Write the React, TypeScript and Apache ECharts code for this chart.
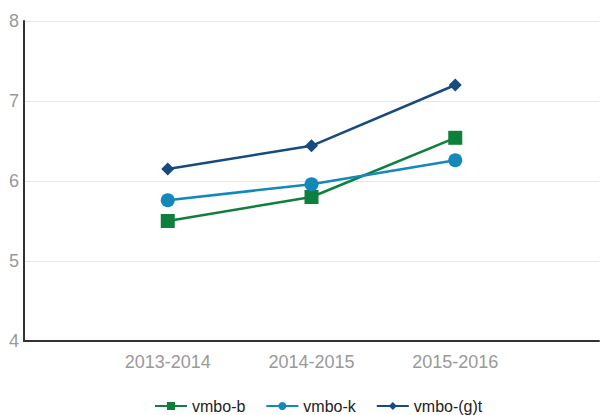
import React, { useEffect, useRef } from "react";
import * as echarts from "echarts";

const categories = ["", "2013-2014", "2014-2015", "2015-2016", ""];
const vmboB = ["-", 5.5, 5.8, 6.54, "-"];
const vmboK = ["-", 5.76, 5.96, 6.26, "-"];
const vmboGT = ["-", 6.15, 6.44, 7.2, "-"];
const yTicks = [4, 5, 6, 7, 8];

export default function App() {
  const ref = useRef<HTMLDivElement>(null);
  useEffect(() => {
    const chart = echarts.init(ref.current!, null, { renderer: "svg" });
    const font = "Liberation Sans, Arial, sans-serif";
    const mk = (name: string, data: any[], color: string, symbol: string, size: number) => ({
      name,
      type: "line",
      data,
      symbol,
      symbolSize: size,
      showAllSymbol: true,
      lineStyle: { color, width: 2.5 },
      itemStyle: { color },
      connectNulls: false,
    });
    chart.setOption({
      animation: false,
      textStyle: { fontFamily: font },
      grid: { left: 24, right: 0, top: 21, bottom: 74, containLabel: false },
      legend: {
        top: 398,
        left: 154,
        padding: 0,
        itemWidth: 32,
        itemHeight: 10,
        itemGap: 20,
        textStyle: { fontSize: 16, color: "#222", fontFamily: font },
        data: ["vmbo-b", "vmbo-k", "vmbo-(g)t"],
      },
      xAxis: {
        type: "category",
        data: categories,
        boundaryGap: false,
        axisLine: { lineStyle: { color: "#333", width: 2 } },
        axisTick: { show: false },
        axisLabel: { color: "#999", fontSize: 18, margin: 12, fontFamily: font },
        splitLine: { show: false },
      },
      yAxis: {
        type: "value",
        min: yTicks[0],
        max: yTicks[yTicks.length - 1],
        interval: 1,
        axisLine: { show: true, lineStyle: { color: "#333", width: 2 } },
        axisTick: { show: false },
        axisLabel: { color: "#999", fontSize: 18, margin: 5, fontFamily: font },
        splitLine: { lineStyle: { color: "#e6e6e6", width: 1 } },
      },
      series: [
        mk("vmbo-b", vmboB, "#0f7f3c", "rect", 14),
        mk("vmbo-k", vmboK, "#1588ba", "circle", 14),
        mk("vmbo-(g)t", vmboGT, "#164b7d", "diamond", 13),
      ],
    });
    return () => chart.dispose();
  }, []);
  return <div ref={ref} style={{ width: 602, height: 415, position: "absolute", left: 0, top: 0 }} />;
}
